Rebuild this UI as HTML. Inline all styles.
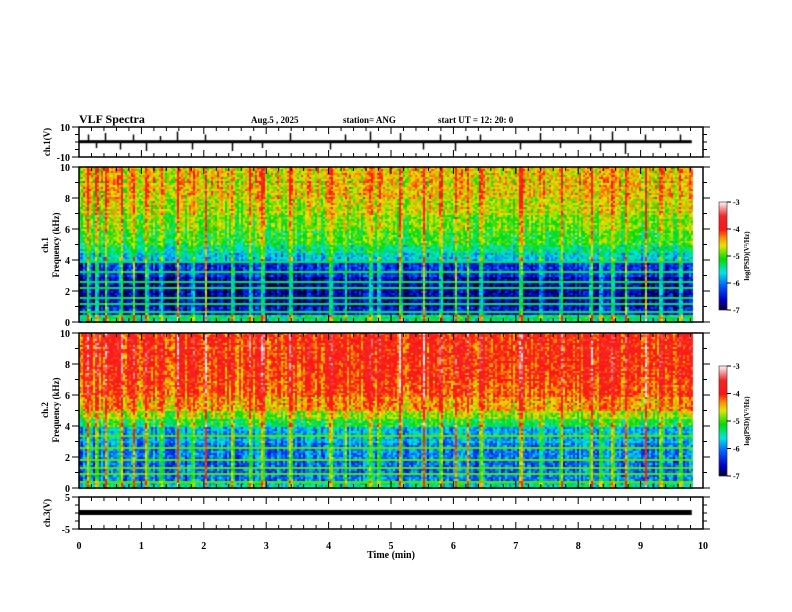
<!DOCTYPE html>
<html><head><meta charset="utf-8"><style>
body{margin:0;background:#fff;width:792px;height:612px;overflow:hidden;position:relative;font-family:"Liberation Serif",serif;}
svg,canvas{position:absolute;left:0;top:0}
</style></head><body>
<canvas id="cv" width="792" height="612"></canvas>
<svg id="sv" width="792" height="612" font-family="Liberation Serif, serif" font-weight="bold">
<text x="79" y="123" font-size="12">VLF Spectra</text>
<text x="251" y="123" font-size="9">Aug.5  , 2025</text>
<text x="343" y="123" font-size="9">station= ANG</text>
<text x="438" y="123" font-size="9">start  UT =   12: 20: 0</text>
<text x="391" y="558" font-size="10" text-anchor="middle">Time  (min)</text>
</svg>
<script>
// ---- data ----
const timeTicks=[0,1,2,3,4,5,6,7,8,9,10];
const freqTicks=[0,2,4,6,8,10];
const cbTicks=[-3,-4,-5,-6,-7];
const burstTimes=[0.14,0.27,0.42,0.66,0.87,1.07,1.30,1.57,1.81,2.02,2.45,2.74,2.93,3.38,4.02,4.26,4.66,4.79,5.14,5.51,5.79,6.03,6.22,6.43,7.07,7.39,7.71,8.19,8.35,8.54,8.75,9.07,9.31,9.63];
const burstStrength=[0.8,0.6,0.7,0.9,0.8,0.9,0.6,0.9,0.7,0.8,0.9,0.6,0.7,0.8,0.9,0.6,0.8,0.7,0.9,0.8,0.6,0.9,0.7,0.8,0.9,0.6,0.8,0.9,0.7,0.9,0.8,0.9,0.7,0.8];
const spikeAmp=[5,-4,6,-5,5,-6,4,7,-5,5,-6,4,-4,6,-5,5,7,-4,6,-5,5,-6,4,5,-5,6,-4,5,-6,7,-8,5,-4,5];
const freqBands=[0,0.5,1,2,3,4,4.5,5,6,7,8,10];
const ch1Level=[-5.4,-6.5,-6.7,-6.7,-6.4,-5.7,-5.4,-5.1,-4.9,-4.7,-4.55];
const ch2Level=[-5.5,-6.0,-6.1,-6.0,-5.8,-5.2,-4.8,-4.4,-4.15,-4.05,-4.0];
const lineFreqs1=[0.35,0.75,1.2,1.6,2.2,2.7,3.3,3.9];
const lineFreqs2=[0.5,1.0,1.3,1.9,2.6,3.4];
const ch3Value=0.3;
const tmax=9.82;
// ---- geometry ----
const X0=79,X1=703;
const P={w:[127,157],s1:[167,322],s2:[333,488],c3:[497,529]};
const xs=t=>X0+(X1-X0)*t/10;
const cv=document.getElementById('cv'),ctx=cv.getContext('2d');
const stops=[[-7,[0,0,40]],[-6.6,[0,0,200]],[-6.1,[0,90,255]],[-5.6,[0,230,230]],[-5.1,[0,220,0]],[-4.6,[230,230,0]],[-4.3,[255,140,0]],[-4.0,[255,20,20]],[-3.5,[240,40,40]],[-3,[255,240,240]]];
function cmap(v){v=Math.max(-7,Math.min(-3,v));for(let i=1;i<stops.length;i++){if(v<=stops[i][0]){const a=stops[i-1],b=stops[i],r=(v-a[0])/(b[0]-a[0]);return 'rgb('+a[1].map((c,k)=>Math.round(c+(b[1][k]-c)*r)).join(',')+')';}}return 'rgb(255,240,240)';}
function level(lv,f){for(let i=0;i<lv.length;i++)if(f<freqBands[i+1])return lv[i];return lv[lv.length-1];}
// deterministic texture (visual grain only)
function grain(i,j){const s=Math.sin(i*12.9898+j*78.233)*43758.5453;return (s-Math.floor(s))-0.5;}
function drawSpec(p,lv,lines,hi){
  const cw=2,rh=2;let ci=0;
  for(let x=X0;x<xs(tmax);x+=cw,ci++){
    const t=(x-X0)/(X1-X0)*10;let b=0;
    burstTimes.forEach((bt,i)=>{const d=(t-bt)/0.02;b+=burstStrength[i]*Math.exp(-d*d);});
    const colJ=grain(ci,7)*0.6;
    let ri=0;
    for(let y=p[0];y<p[1];y+=rh,ri++){
      const f=(p[1]-y)/(p[1]-p[0])*10;
      let v=level(lv,f)+b*(f<4.2?2.4:1.0)+grain(ci,ri)*0.7+colJ;
      if(f<4.2&&f>0.2){for(const lf of lines){if(Math.abs(f-lf)<0.07){v=Math.max(v,hi);}}}
      ctx.fillStyle=cmap(v);ctx.fillRect(x,y,cw,rh);
    }
  }
}
drawSpec(P.s1,ch1Level,lineFreqs1,-5.3);
drawSpec(P.s2,ch2Level,lineFreqs2,-4.9);
function cbar(y0,y1){for(let y=y0;y<y1;y++){ctx.fillStyle=cmap(-3-4*(y-y0)/(y1-y0));ctx.fillRect(719,y,8,1);}}
cbar(202,310);cbar(366,476);
// waveform
const wy=v=>142-v*15/10;
ctx.fillStyle='#000';ctx.fillRect(X0,wy(0.2)-1.5,xs(tmax)-X0,3);
ctx.strokeStyle='#000';ctx.lineWidth=1.5;
burstTimes.forEach((bt,i)=>{const x=Math.round(xs(bt))+0.5;ctx.beginPath();ctx.moveTo(x,wy(0.2));ctx.lineTo(x,wy(spikeAmp[i]));ctx.stroke();});
// ch3
ctx.fillRect(X0,Math.round(513-ch3Value*16/5)-2,xs(tmax)-X0,5);
// ---- svg frames ----
const sv=document.getElementById('sv'),NS='http://www.w3.org/2000/svg';
function el(tag,attrs,txt){const e=document.createElementNS(NS,tag);for(const k in attrs)e.setAttribute(k,attrs[k]);if(txt!==undefined)e.textContent=txt;sv.appendChild(e);return e;}
function frame(p,name,yt,ymin,ymax,yminor){
  const r=el('rect',{x:X0,y:p[0],width:X1-X0,height:p[1]-p[0],fill:'none',stroke:'#000','stroke-width':1.5});
  
  
  for(let i=0;i<=50;i++){const x=xs(i*0.2),L=i%5==0?7:4;
    el('line',{x1:x,x2:x,y1:p[0],y2:p[0]+L,stroke:'#000'});el('line',{x1:x,x2:x,y1:p[1],y2:p[1]-L,stroke:'#000'});}
  const yv=v=>p[1]-(p[1]-p[0])*(v-ymin)/(ymax-ymin);
  for(let v=ymin;v<=ymax+1e-6;v+=yminor){const y=yv(v),maj=yt.includes(v),L=maj?7:4;
    el('line',{x1:X0,x2:X0-L,y1:y,y2:y,stroke:'#000'});el('line',{x1:X1,x2:X1+L,y1:y,y2:y,stroke:'#000'});}
  yt.forEach(v=>{const t=el('text',{x:X0-9,y:yv(v)+4,'font-size':10,'text-anchor':'end'},String(v));
    
    });
}
frame(P.w,'ch1-waveform',[10,-10],-10,10,5);
frame(P.s1,'ch1-spectrum',freqTicks,0,10,1);
frame(P.s2,'ch2-spectrum',freqTicks,0,10,1);
frame(P.c3,'ch3-waveform',[5,-5],-5,5,2.5);
timeTicks.forEach(t=>{const e=el('text',{x:xs(t),y:549,'font-size':10,'text-anchor':'middle'},String(t));
  
  });
function vlab(x,y,txt,name,fs){const e=el('text',{x:x,y:y,'font-size':fs||9,'text-anchor':'middle',transform:'rotate(-90 '+x+' '+y+')'},txt);
  
  }
vlab(50,142,'ch.1(V)','ch1-y-title');
vlab(48,245,'ch.1','ch1-spec-y-title-1');vlab(59,245,'Frequency  (kHz)','ch1-spec-y-title-2');
vlab(48,410,'ch.2','ch2-spec-y-title-1');vlab(59,410,'Frequency  (kHz)','ch2-spec-y-title-2');
vlab(50,513,'ch.3(V)','ch3-y-title');
function cbax(y0,y1,name){
  const r=el('rect',{x:719,y:y0,width:8,height:y1-y0,fill:'none',stroke:'#000','stroke-width':0.5});
  
  
  cbTicks.forEach((v,i)=>{const y=y0+(y1-y0)*i/4;el('line',{x1:727,x2:731,y1:y,y2:y,stroke:'#000'});
    const t=el('text',{x:733,y:y+3,'font-size':8},String(v));
    
    });
  vlab(749,(y0+y1)/2,'log(PSD)(V\u00b2/Hz)','colorbar-title',7);
}
cbax(202,310,'ch1-colorbar');cbax(366,476,'ch2-colorbar');
</script>
</body></html>
